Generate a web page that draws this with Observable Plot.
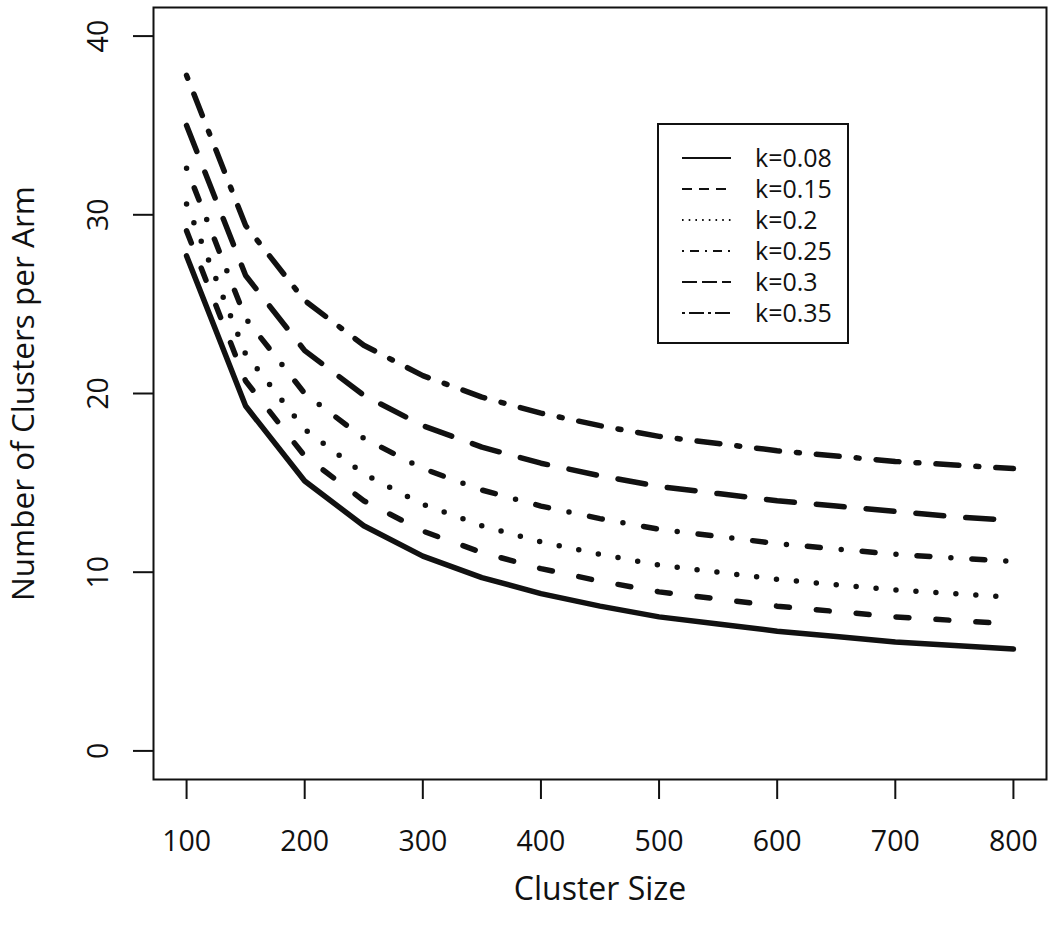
<!DOCTYPE html>
<html>
<head>
<meta charset="utf-8">
<script src="https://cdn.jsdelivr.net/npm/d3@7"></script>
<script src="https://cdn.jsdelivr.net/npm/@observablehq/plot@0.6"></script>
<style>
  html, body { margin: 0; padding: 0; background: #fff; }
  #wrap { position: relative; width: 1050px; height: 932px; font-family: "Open Sans", sans-serif; color: #111; }
  #legend { position: absolute; left: 657px; top: 123px; width: 188px; height: 217px; border: 2px solid #111; background: #fff; }
</style>
</head>
<body>
<div id="wrap"></div>
<script>
// ---- data ----
const clusterSize = [100, 150, 200, 250, 300, 350, 400, 450, 500, 550, 600, 650, 700, 750, 800];
const kLabels = ["k=0.08", "k=0.15", "k=0.2", "k=0.25", "k=0.3", "k=0.35"];
const clustersK008 = [27.7, 19.3, 15.1, 12.6, 10.9, 9.7, 8.8, 8.1, 7.5, 7.1, 6.7, 6.4, 6.1, 5.9, 5.7];
const clustersK015 = [29.1, 20.7, 16.5, 14.0, 12.3, 11.1, 10.2, 9.5, 8.9, 8.5, 8.1, 7.8, 7.5, 7.3, 7.1];
const clustersK020 = [30.6, 22.2, 18.0, 15.5, 13.8, 12.6, 11.7, 11.0, 10.4, 10.0, 9.6, 9.3, 9.0, 8.8, 8.6];
const clustersK025 = [32.6, 24.2, 20.0, 17.5, 15.8, 14.6, 13.7, 13.0, 12.4, 12.0, 11.6, 11.3, 11.0, 10.8, 10.6];
const clustersK030 = [35.0, 26.6, 22.4, 19.9, 18.2, 17.0, 16.1, 15.4, 14.8, 14.4, 14.0, 13.7, 13.4, 13.1, 12.9];
const clustersK035 = [37.8, 29.4, 25.2, 22.7, 21.0, 19.8, 18.9, 18.2, 17.6, 17.2, 16.8, 16.5, 16.2, 16.0, 15.8];
const xTicks = [100, 200, 300, 400, 500, 600, 700, 800];
const yTicks = [0, 10, 20, 30, 40];

// ---- styles (R lty 1..6) ----
const seriesValues = [clustersK008, clustersK015, clustersK020, clustersK025, clustersK030, clustersK035];
const dashPlot = [null, "13,27", "0,20", "0,21,13,21", "28,22", "3,17,23,17"];
const dashLegend = [null, "10,7", "1.6,5.1", "2,6,9,6", "15,5", "3,4,15,4"];
const ink = "#111";

const rows = kLabels.flatMap((k, i) => clusterSize.map((m, j) => ({k, m, n: seriesValues[i][j]})));

const lineMarks = kLabels.map((k, i) => Plot.line(rows.filter(d => d.k === k), {
  x: "m", y: "n", stroke: ink, strokeWidth: 5.5,
  strokeDasharray: dashPlot[i] || undefined,
  strokeLinecap: "round", strokeLinejoin: "round"
}));

const chart = Plot.plot({
  width: 1050, height: 932,
  marginLeft: 153, marginRight: 4, marginTop: 7, marginBottom: 153,
  style: {fontFamily: "'Open Sans', sans-serif", fontSize: "28px", color: ink, background: "#fff"},
  x: {domain: [72, 828]},
  y: {domain: [-1.6, 41.6]},
  marks: [
    Plot.axisX({
      ticks: xTicks, tickFormat: d => String(d), tickSize: 20, tickPadding: 31, strokeWidth: 2,
      fontSize: 28.5, fill: ink, label: null
    }),
    Plot.axisX({
      ticks: [], tickSize: 0,
      fontSize: 32, fill: ink,
      label: "Cluster Size", labelAnchor: "center", labelOffset: 120, labelArrow: "none"
    }),
    Plot.axisY({
      ticks: yTicks, tickFormat: d => String(d), tickSize: 20, tickPadding: 26, tickRotate: -90, strokeWidth: 2,
      fontSize: 28.5, fill: ink, label: null
    }),
    Plot.axisY({
      ticks: [], tickSize: 0,
      fontSize: 31.5, fill: ink,
      label: "Number of Clusters per Arm", labelAnchor: "center", labelOffset: 142, labelArrow: "none"
    }),
    ...lineMarks,
    Plot.frame({stroke: ink, strokeWidth: 2})
  ]
});

const wrap = document.getElementById("wrap");
wrap.appendChild(chart);

// ---- legend (overlay, as in the reference) ----
const legend = document.createElement("div");
legend.id = "legend";
wrap.appendChild(legend);
const lsvg = d3.select(legend).append("svg").attr("width", 188).attr("height", 217)
  .style("font-family", "'Open Sans', sans-serif");
kLabels.forEach((k, i) => {
  const cy = 33 + i * 31;
  lsvg.append("line").attr("x1", 23).attr("x2", 72).attr("y1", cy).attr("y2", cy)
    .attr("stroke", ink).attr("stroke-width", 2.2)
    .attr("stroke-dasharray", dashLegend[i]);
  lsvg.append("text").attr("x", 96).attr("y", cy).attr("dy", "0.36em")
    .attr("font-size", 25).attr("fill", ink).text(k);
});
</script>
</body>
</html>
